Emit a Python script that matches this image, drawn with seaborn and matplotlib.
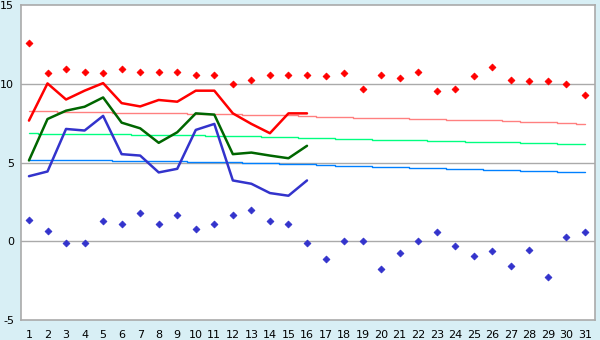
import numpy as np
import pandas as pd
import matplotlib
matplotlib.use('Agg')
import matplotlib.pyplot as plt
import seaborn as sns

# days of the month
days = list(range(1, 32))

# daily extremes (markers)
max_points = [12.58, 10.68, 10.93, 10.74, 10.68, 10.93, 10.74, 10.74, 10.74, 10.55,
              10.55, 9.98, 10.23, 10.55, 10.55, 10.55, 10.49, 10.68, 9.66, 10.55,
              10.36, 10.74, 9.54, 9.66, 10.49, 11.06, 10.23, 10.17, 10.17, 9.98, 9.28]
min_points = [1.37, 0.68, -0.08, -0.08, 1.31, 1.12, 1.82, 1.12, 1.69, 0.80,
              1.12, 1.69, 2.00, 1.31, 1.12, -0.08, -1.10, 0.00, 0.00, -1.73,
              -0.72, 0.00, 0.61, -0.27, -0.91, -0.59, -1.60, -0.53, -2.30, 0.30, 0.61]

# current month lines (days 1-16)
line_days = list(range(1, 17))
tmax_line = [7.66, 10.02, 9.00, 9.56, 10.04, 8.77, 8.56, 8.97, 8.86, 9.56,
             9.56, 8.12, 7.45, 6.86, 8.12, 8.12]
tmean_line = [5.13, 7.76, 8.29, 8.54, 9.13, 7.53, 7.17, 6.25, 6.92, 8.12,
              8.04, 5.53, 5.63, 5.44, 5.27, 6.06]
tmin_line = [4.13, 4.43, 7.13, 7.03, 7.96, 5.53, 5.44, 4.37, 4.60, 7.07,
             7.45, 3.86, 3.65, 3.06, 2.89, 3.86]

# long-term normals
norm_max = [8.29, 8.26, 8.23, 8.20, 8.18, 8.17, 8.16, 8.14, 8.12, 8.10,
            8.08, 8.06, 8.04, 8.02, 7.99, 7.93, 7.89, 7.86, 7.84, 7.82,
            7.80, 7.78, 7.75, 7.72, 7.70, 7.68, 7.62, 7.60, 7.57, 7.51, 7.45]
norm_mean = [6.88, 6.83, 6.81, 6.80, 6.79, 6.78, 6.77, 6.76, 6.75, 6.73,
             6.71, 6.69, 6.67, 6.64, 6.60, 6.56, 6.53, 6.50, 6.47, 6.46,
             6.44, 6.40, 6.38, 6.36, 6.33, 6.31, 6.27, 6.24, 6.22, 6.20, 6.18]
norm_min = [5.17, 5.17, 5.16, 5.15, 5.13, 5.12, 5.11, 5.10, 5.08, 5.06,
            5.04, 5.02, 5.00, 4.97, 4.93, 4.88, 4.83, 4.79, 4.75, 4.72,
            4.69, 4.65, 4.62, 4.60, 4.58, 4.55, 4.52, 4.49, 4.46, 4.42, 4.39]

sns.set_style('white')
plt.rcParams['font.family'] = ['DejaVu Sans']

bg = '#d8eff5'
grid_col = '#aaaaaa'

fig = plt.figure(figsize=(6, 3.4), dpi=100, facecolor=bg)
ax = fig.add_axes([0.035, 0.0588, 0.9567, 0.9265])
ax.set_facecolor('white')

# grid lines
for yv in [0, 5, 10]:
    ax.axhline(yv, color=grid_col, linewidth=1, zorder=0)

# normals
sns.lineplot(x=days, y=norm_max, color='#ff8080', linewidth=1, ax=ax, drawstyle='steps-mid')
sns.lineplot(x=days, y=norm_mean, color='#00ff80', linewidth=1, ax=ax, drawstyle='steps-mid')
sns.lineplot(x=days, y=norm_min, color='#0080ff', linewidth=1, ax=ax, drawstyle='steps-mid')

# current lines
sns.lineplot(x=line_days, y=tmax_line, color='#ff0000', linewidth=1.8, ax=ax)
sns.lineplot(x=line_days, y=tmean_line, color='#006600', linewidth=1.8, ax=ax)
sns.lineplot(x=line_days, y=tmin_line, color='#3333cc', linewidth=1.8, ax=ax)

# extremes
sns.scatterplot(x=days, y=max_points, color='#ff0000', marker='D', s=12,
                edgecolor='#ff0000', linewidth=0.6, ax=ax, zorder=5)
sns.scatterplot(x=days, y=min_points, color='#3333cc', marker='D', s=12,
                edgecolor='#3333cc', linewidth=0.6, ax=ax, zorder=5)

ax.set_xlim(0.57, 31.54)
ax.set_ylim(-5, 15)
ax.set_xticks(days)
ax.set_xticklabels([str(d) for d in days])
ax.set_yticks([-5, 0, 5, 10, 15])
ax.set_yticklabels(['-5', '0', '5', '10', '15'])

for s in ax.spines.values():
    s.set_color(grid_col)
    s.set_linewidth(1.2)

ax.tick_params(axis='both', direction='out', length=4, width=1, color='#000000',
               labelsize=8, labelcolor='black', pad=1)
ax.tick_params(axis='x', pad=3)
ax.set_xlabel('')
ax.set_ylabel('')

fig.savefig('out.png', dpi=100, facecolor=bg)
